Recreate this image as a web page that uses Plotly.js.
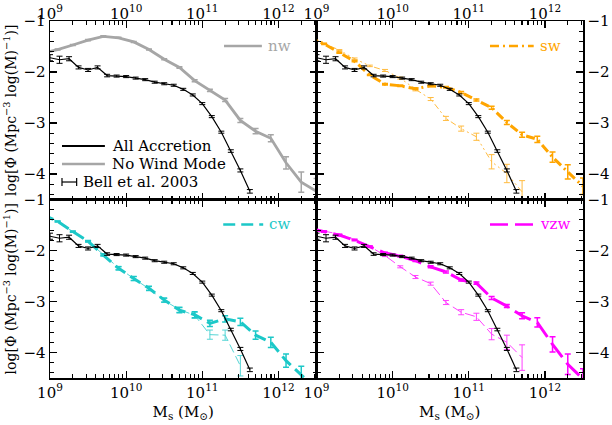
<!DOCTYPE html>
<html><head><meta charset="utf-8">
<script src="https://cdn.plot.ly/plotly-3.0.1.min.js"></script>
<style>html,body{margin:0;padding:0;background:#fff}#plot{width:612px;height:425px}</style>
</head><body><div id="plot"></div>
<script>
// ---------- data (log10 of stellar mass, log10 of mass function) ----------
const bellLogM = [9.0,9.125,9.25,9.375,9.5,9.625,9.75,9.875,10.0,10.125,10.25,10.375,10.5,10.625,10.75,10.875,11.0,11.125,11.25,11.375,11.5,11.625];
const bellPhi  = [-1.72,-1.76,-1.74,-1.91,-1.96,-1.91,-2.07,-2.08,-2.09,-2.12,-2.15,-2.20,-2.23,-2.26,-2.34,-2.45,-2.62,-2.875,-3.18,-3.55,-3.93,-4.34];
const bellErr  = [0.06,0.07,0.04,0.03,0.03,0.03,0.025,0.02,0.02,0.02,0.02,0.02,0.02,0.02,0.02,0.02,0.02,0.02,0.02,0.025,0.03,0.035];

const simLogM = [8.9,9.1,9.3,9.5,9.7,9.9,10.1,10.3,10.5,10.7,10.9,11.1,11.3,11.5,11.7,11.9,12.1,12.3,12.5];

const nwAll  = [-1.63,-1.56,-1.47,-1.375,-1.30,-1.33,-1.41,-1.56,-1.75,-1.91,-2.17,-2.36,-2.55,-2.95,-3.16,-3.30,-3.78,-4.16,-4.34];
const nwErr  = [0.01,0.01,0.01,0.01,0.01,0.01,0.01,0.01,0.01,0.015,0.02,0.02,0.03,0.04,0.05,0.07,0.12,0.2,0.25];

const swAll  = [-1.31,-1.45,-1.62,-1.79,-2.06,-2.24,-2.27,-2.33,-2.27,-2.30,-2.40,-2.55,-2.70,-2.99,-3.23,-3.32,-3.67,-3.96,-4.24];
const swAllErr = [0.01,0.01,0.01,0.01,0.01,0.015,0.015,0.015,0.015,0.015,0.02,0.02,0.03,0.04,0.05,0.06,0.1,0.14,0.16];
const swNoW  = [-1.31,-1.44,-1.57,-1.74,-1.88,-1.97,-2.12,-2.34,-2.53,-2.91,-3.11,-3.27,-3.76,-3.99,-4.35];
const swNoWErr = [0.01,0.01,0.01,0.015,0.015,0.02,0.02,0.03,0.03,0.04,0.05,0.07,0.14,0.18,0.22];

const cwAll  = [-1.29,-1.43,-1.63,-1.82,-2.09,-2.35,-2.55,-2.74,-2.97,-3.17,-3.26,-3.43,-3.34,-3.40,-3.66,-3.80,-4.16,-4.45,-4.72];
const cwAllErr = [0.01,0.01,0.01,0.015,0.02,0.03,0.04,0.04,0.04,0.05,0.06,0.06,0.06,0.07,0.08,0.1,0.13,0.18,0.2];
const cwNoW  = [-1.29,-1.43,-1.63,-1.82,-2.08,-2.34,-2.55,-2.75,-2.98,-3.16,-3.27,-3.65,-3.66,-4.26];
const cwNoWErr = [0.01,0.01,0.01,0.015,0.02,0.03,0.04,0.04,0.04,0.05,0.06,0.09,0.1,0.2];

const vzwAll = [-1.56,-1.63,-1.70,-1.80,-1.92,-2.05,-2.11,-2.20,-2.32,-2.42,-2.58,-2.64,-2.93,-3.09,-3.28,-3.41,-3.84,-4.23,-4.52];
const vzwAllErr = [0.01,0.01,0.01,0.01,0.01,0.015,0.015,0.015,0.02,0.02,0.02,0.02,0.03,0.03,0.06,0.09,0.15,0.2,0.2];
const vzwNoW = [-1.56,-1.62,-1.68,-1.78,-1.92,-2.10,-2.32,-2.52,-2.65,-3.02,-3.21,-3.30,-3.64,-3.80,-4.10];
const vzwNoWErr = [0.01,0.01,0.01,0.01,0.015,0.02,0.02,0.03,0.03,0.04,0.05,0.07,0.11,0.14,0.25];

const xTickVals = [1e9,1e10,1e11,1e12];
const xTickText = ['10<sup>9</sup>','10<sup>10</sup>','10<sup>11</sup>','10<sup>12</sup>'];
const yTickVals = [-1,-2,-3,-4];
const yTickText = ['\u22121','\u22122','\u22123','\u22124'];
const panelNames = ['nw','sw','cw','vzw'];
const legendLabels = ['All Accretion','No Wind Mode','Bell et al. 2003'];

// ---------- helpers ----------
const toM = a => a.map(v => Math.pow(10, v));
const minorX = [];
for (let d = 9; d <= 12; d++) for (let k = 2; k <= 9; k++) minorX.push(k * Math.pow(10, d));

const ORANGE = '#FFA500', CYAN = '#1CC8C8', MAGENTA = '#FF00FF', GRAY = '#A6A6A6';

function series(logm, phi, err, color, width, dash, xa, ya, opacity) {
  const n = phi.length;
  return {
    x: toM(logm.slice(0, n)), y: phi, xaxis: xa, yaxis: ya,
    type: 'scatter', mode: 'lines', showlegend: false, opacity: opacity || 1,
    line: {color: color, width: width, dash: dash},
    error_y: {type: 'data', array: err, color: color, thickness: width > 2 ? 1.5 : 1, width: 3},
    cliponaxis: true, hoverinfo: 'skip'
  };
}
function bell(xa, ya) {
  return series(bellLogM, bellPhi, bellErr, '#000', 1.2, 'solid', xa, ya);
}

const traces = [
  series(simLogM, nwAll, nwErr, GRAY, 2.8, 'solid', 'x', 'y'),
  bell('x', 'y'),
  series(simLogM, swNoW, swNoWErr, ORANGE, 1, '6px,3px,2px,3px,2px,3px,2px,3px', 'x2', 'y2', 0.75),
  series(simLogM, swAll, swAllErr, ORANGE, 3, '9px,4px,2px,4px', 'x2', 'y2'),
  bell('x2', 'y2'),
  series(simLogM, cwNoW, cwNoWErr, CYAN, 1, '9px,4px', 'x3', 'y3', 0.75),
  series(simLogM, cwAll, cwAllErr, CYAN, 3, '12px,6px', 'x3', 'y3'),
  bell('x3', 'y3'),
  series(simLogM, vzwNoW, vzwNoWErr, MAGENTA, 1, '10px,4px', 'x4', 'y4', 0.75),
  series(simLogM, vzwAll, vzwAllErr, MAGENTA, 3, '18px,7px', 'x4', 'y4'),
  bell('x4', 'y4')
];

const FONT = 'DejaVu Serif, serif';
function xax(domain, anchor, side, title) {
  return {
    domain: domain, anchor: anchor, type: 'log', range: [9, 12.5], side: side,
    tickmode: 'array', tickvals: xTickVals, ticktext: xTickText,
    ticks: 'inside', ticklen: 7, tickwidth: 1.2, tickcolor: '#000',
    ticklabelstandoff: side === 'top' ? -5 : 0,
    minor: {tickvals: minorX, ticks: 'inside', ticklen: 4, tickwidth: 1.1, tickcolor: '#000'},
    showline: true, linecolor: '#000', linewidth: 1.5, mirror: 'ticks',
    showgrid: false, zeroline: false, tickfont: {family: FONT, size: 15, color: '#000'},
    title: title ? {text: title, font: {family: FONT, size: 15, color: '#000'}, standoff: 6} : undefined
  };
}
function yax(domain, anchor, side, title) {
  return {
    domain: domain, anchor: anchor, range: [-4.5, -1], side: side,
    tickmode: 'array', tickvals: yTickVals, ticktext: yTickText,
    ticks: 'inside', ticklen: 7, tickwidth: 1.2, tickcolor: '#000',
    minor: {dtick: 0.2, tick0: 0, ticks: 'inside', ticklen: 4, tickwidth: 1.1, tickcolor: '#000'},
    showline: true, linecolor: '#000', linewidth: 1.5, mirror: 'ticks',
    showgrid: false, zeroline: false, tickfont: {family: FONT, size: 15, color: '#000'},
    title: title ? {text: title, font: {family: FONT, size: 14, color: '#000'}, standoff: 3} : undefined
  };
}
const yTitle = 'log[\u03A6 (Mpc<sup>\u22123</sup> log(M)<sup>\u22121</sup>)]';
const xTitle = 'M<sub>s</sub> (M<sub>\u2299</sub>)';

const shapes = [], annotations = [];
function sample(xa, ya, x0, x1, y, color, width, dash) {
  shapes.push({type: 'line', xref: xa + ' domain', yref: ya + ' domain', x0: x0, x1: x1, y0: y, y1: y,
    line: {color: color, width: width, dash: dash}});
}
function label(xa, ya, x, y, text, color, size) {
  annotations.push({xref: xa + ' domain', yref: ya + ' domain', x: x, y: y, xanchor: 'left', yanchor: 'middle',
    text: text, showarrow: false, font: {family: FONT, size: size, color: color}});
}
// legend in top-left panel
sample('x', 'y', 0.045, 0.206, 0.30, '#000', 2, 'solid');
label('x', 'y', 0.225, 0.30, legendLabels[0], '#000', 15);
sample('x', 'y', 0.045, 0.206, 0.199, GRAY, 2.5, 'solid');
label('x', 'y', 0.225, 0.199, legendLabels[1], '#000', 15);
sample('x', 'y', 0.045, 0.10, 0.098, '#000', 1.2, 'solid');
shapes.push({type: 'line', xref: 'x domain', yref: 'y domain', x0: 0.045, x1: 0.045, y0: 0.075, y1: 0.121, line: {color: '#000', width: 1.2}});
shapes.push({type: 'line', xref: 'x domain', yref: 'y domain', x0: 0.10, x1: 0.10, y0: 0.075, y1: 0.121, line: {color: '#000', width: 1.2}});
label('x', 'y', 0.115, 0.098, legendLabels[2], '#000', 15);
// panel keys
sample('x', 'y', 0.653, 0.795, 0.86, GRAY, 2.5, 'solid');
label('x', 'y', 0.81, 0.86, panelNames[0], GRAY, 15);
sample('x2', 'y2', 0.651, 0.815, 0.86, ORANGE, 2.5, '9px,4px,2px,4px');
label('x2', 'y2', 0.83, 0.86, panelNames[1], ORANGE, 15);
sample('x3', 'y3', 0.65, 0.80, 0.86, CYAN, 2.5, '12px,6px');
label('x3', 'y3', 0.815, 0.86, panelNames[2], CYAN, 15);
sample('x4', 'y4', 0.651, 0.815, 0.86, MAGENTA, 2.5, '18px,7px');
label('x4', 'y4', 0.83, 0.86, panelNames[3], MAGENTA, 15);

const layout = {
  width: 612, height: 425, margin: {l: 50, r: 29, t: 21, b: 47},
  paper_bgcolor: '#fff', plot_bgcolor: '#fff', showlegend: false,
  xaxis:  xax([0, 0.5], 'y', 'top'),
  yaxis:  yax([0.5, 1], 'x', 'left', yTitle),
  xaxis2: xax([0.5, 1], 'y2', 'top'),
  yaxis2: yax([0.5, 1], 'x2', 'right'),
  xaxis3: xax([0, 0.5], 'y3', 'bottom', xTitle),
  yaxis3: yax([0, 0.5], 'x3', 'left', yTitle),
  xaxis4: xax([0.5, 1], 'y4', 'bottom', xTitle),
  yaxis4: yax([0, 0.5], 'x4', 'right'),
  shapes: shapes, annotations: annotations
};
Plotly.newPlot('plot', traces, layout, {staticPlot: true});
</script></body></html>
